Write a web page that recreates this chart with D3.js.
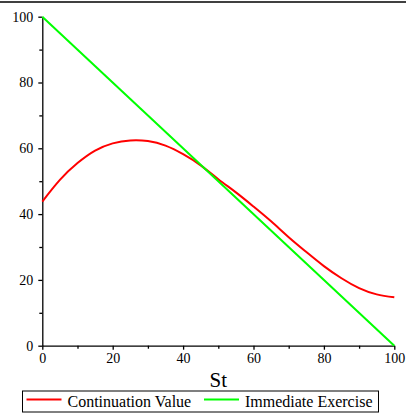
<!DOCTYPE html>
<html lang="en">
<head>
  <meta charset="utf-8">
  <title>Continuation Value vs Immediate Exercise</title>
  <script src="https://d3js.org/d3.v7.min.js"></script>
  <style>
    body { margin: 0; background: #fff; }
    svg text { font-family: "Liberation Serif", "Times New Roman", serif; fill: #000; }
    .axis path, .axis line { stroke: #000; stroke-width: 1.3; }
  </style>
</head>
<body>
<svg width="406" height="417"></svg>
<script>
  // values
  var stValues = [0, 5, 10, 15, 20, 25, 30, 35, 40, 45, 50, 55, 60, 65, 70, 75, 80, 85, 90, 95, 100];
  var continuationValues = [43.8, 50.4, 55.5, 59.3, 61.5, 62.4, 62.2, 60.8, 58.2, 54.8, 50.6,
                            46.6, 42.3, 37.8, 33.0, 28.5, 24.2, 20.5, 17.5, 15.6, 14.7];
  var exerciseSt = [0, 100];
  var exerciseValues = [100, 0];
  var majorTicks = [0, 20, 40, 60, 80, 100];
  var minorTicks = [10, 30, 50, 70, 90];
  var legendLabels = ["Continuation Value", "Immediate Exercise"];
  var seriesColors = ["#ff0000", "#00ff00"];

  var svg = d3.select("svg");

  var x = d3.scaleLinear().domain([0, 100]).range([42.3, 394.3]);
  var y = d3.scaleLinear().domain([0, 100]).range([345.7, 16.7]);

  // thin frame line at the top
  svg.append("line")
      .attr("x1", 0).attr("x2", 406)
      .attr("y1", 2).attr("y2", 2)
      .attr("stroke", "#000")
      .attr("stroke-width", 1.5);

  // x axis, major then minor ticks
  svg.append("g")
      .attr("class", "axis")
      .attr("transform", "translate(0," + y(0) + ")")
      .call(d3.axisBottom(x).tickValues(majorTicks).tickSize(4).tickPadding(3).tickSizeOuter(0));
  svg.append("g")
      .attr("class", "axis")
      .attr("transform", "translate(0," + y(0) + ")")
      .call(d3.axisBottom(x).tickValues(minorTicks).tickSize(3).tickFormat("").tickSizeOuter(0))
      .select(".domain").remove();

  // y axis
  svg.append("g")
      .attr("class", "axis")
      .attr("transform", "translate(" + x(0) + ",0)")
      .call(d3.axisLeft(y).tickValues(majorTicks).tickSize(4).tickPadding(5).tickSizeOuter(0));
  svg.append("g")
      .attr("class", "axis")
      .attr("transform", "translate(" + x(0) + ",0)")
      .call(d3.axisLeft(y).tickValues(minorTicks).tickSize(3).tickFormat("").tickSizeOuter(0))
      .select(".domain").remove();

  svg.selectAll(".axis")
      .attr("font-family", "Liberation Serif, Times New Roman, serif")
      .attr("font-size", 14);
  svg.selectAll(".axis .domain").attr("stroke-width", 1.5);

  // x axis title
  svg.append("text")
      .attr("x", (x(0) + x(100)) / 2)
      .attr("y", 387)
      .attr("text-anchor", "middle")
      .style("font-size", "21px")
      .text("St");

  var line = d3.line()
      .x(function(d) { return x(d[0]); })
      .y(function(d) { return y(d[1]); })
      .curve(d3.curveNatural);

  svg.append("path")
      .datum(d3.zip(stValues, continuationValues))
      .attr("fill", "none")
      .attr("stroke", seriesColors[0])
      .attr("stroke-width", 2)
      .attr("d", line);

  svg.append("path")
      .datum(d3.zip(exerciseSt, exerciseValues))
      .attr("fill", "none")
      .attr("stroke", seriesColors[1])
      .attr("stroke-width", 2)
      .attr("d", line);

  // legend
  var legend = svg.append("g");
  legend.append("rect")
      .attr("x", 22.5).attr("y", 391)
      .attr("width", 356).attr("height", 21)
      .attr("fill", "#fff")
      .attr("stroke", "#000")
      .attr("stroke-width", 1);

  var legendX = [26.5, 204];
  legendLabels.forEach(function(label, i) {
    legend.append("line")
        .attr("x1", legendX[i]).attr("x2", legendX[i] + 35)
        .attr("y1", 399.5).attr("y2", 399.5)
        .attr("stroke", seriesColors[i])
        .attr("stroke-width", 2);
    legend.append("text")
        .attr("x", legendX[i] + 41)
        .attr("y", 406.5)
        .style("font-size", "16px")
        .text(label);
  });
</script>
</body>
</html>
